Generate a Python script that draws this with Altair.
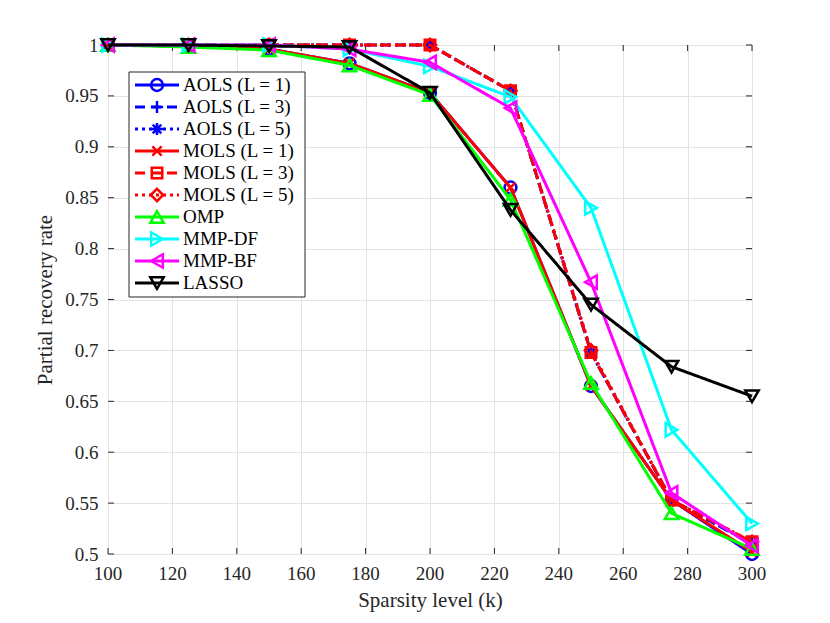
import altair as alt
import pandas as pd

# ---------------- data ----------------
k_values = [100, 125, 150, 175, 200, 225, 250, 275, 300]

series_names = ["AOLS (L = 1)", "AOLS (L = 3)", "AOLS (L = 5)",
                "MOLS (L = 1)", "MOLS (L = 3)", "MOLS (L = 5)",
                "OMP", "MMP-DF", "MMP-BF", "LASSO"]

aols_l1 = [1.000, 0.999, 0.996, 0.982, 0.953, 0.860, 0.665, 0.553, 0.500]
aols_l3 = [1.000, 1.000, 1.000, 1.000, 1.000, 0.955, 0.698, 0.553, 0.510]
aols_l5 = [1.000, 1.000, 1.000, 1.000, 1.000, 0.955, 0.698, 0.553, 0.510]
mols_l1 = [1.000, 0.999, 0.996, 0.982, 0.953, 0.860, 0.665, 0.553, 0.502]
mols_l3 = [1.000, 1.000, 1.000, 1.000, 1.000, 0.955, 0.698, 0.553, 0.512]
mols_l5 = [1.000, 1.000, 1.000, 1.000, 1.000, 0.955, 0.700, 0.553, 0.512]
omp     = [1.000, 0.998, 0.995, 0.980, 0.951, 0.848, 0.668, 0.540, 0.505]
mmp_df  = [1.000, 1.000, 1.000, 0.996, 0.979, 0.949, 0.840, 0.622, 0.530]
mmp_bf  = [1.000, 1.000, 1.000, 0.996, 0.983, 0.938, 0.767, 0.560, 0.508]
lasso   = [1.000, 1.000, 0.999, 0.998, 0.953, 0.838, 0.745, 0.684, 0.655]

series_values = [aols_l1, aols_l3, aols_l5, mols_l1, mols_l3, mols_l5,
                 omp, mmp_df, mmp_bf, lasso]

x_ticks = [100, 120, 140, 160, 180, 200, 220, 240, 260, 280, 300]
x_tick_labels = ["100", "120", "140", "160", "180", "200", "220", "240", "260", "280", "300"]
y_ticks = [0.5, 0.55, 0.6, 0.65, 0.7, 0.75, 0.8, 0.85, 0.9, 0.95, 1.0]

# ---------------- styles ----------------
PLUS = "M-1,0L1,0M0,-1L0,1"
STAR = "M-1,0L1,0M0,-1L0,1M-0.7,-0.7L0.7,0.7M-0.7,0.7L0.7,-0.7"
XMARK = "M-0.75,-0.75L0.75,0.75M-0.75,0.75L0.75,-0.75"

colors = ["#0000FF", "#0000FF", "#0000FF", "#FF0000", "#FF0000", "#FF0000",
          "#00FF00", "#00FFFF", "#FF00FF", "#000000"]
dashes = [[1, 0], [10, 6], [3, 4], [1, 0], [10, 6], [3, 4],
          [1, 0], [1, 0], [1, 0], [1, 0]]
shapes = ["circle", PLUS, STAR, XMARK, "square", "diamond",
          "triangle-up", "triangle-right", "triangle-left", "triangle-down"]
sizes = [140, 150, 150, 150, 110, 150, 180, 180, 180, 180]

FONT = "Liberation Serif"
AX = "#262626"
W, H = 644, 509
LW = 3
MW = 2.5

xscale = alt.Scale(domain=[100, 300], nice=False, zero=False)
yscale = alt.Scale(domain=[0.5, 1.0], nice=False, zero=False)

xaxis = alt.Axis(values=x_ticks, grid=True, ticks=False, labels=False,
                 domain=False, title="Sparsity level (k)", titlePadding=35,
                 titleFont=FONT, titleFontSize=21, titleFontWeight="normal",
                 titleColor=AX, gridColor="#e3e3e3")
yaxis = alt.Axis(values=y_ticks, format="~g", grid=True, ticks=False,
                 domain=False, title="Partial recovery rate", titlePadding=9,
                 labelFont=FONT, labelFontSize=19, labelColor=AX, labelPadding=10,
                 titleFont=FONT, titleFontSize=21, titleFontWeight="normal",
                 titleColor=AX, gridColor="#e3e3e3")

rows = []
for name, vals in zip(series_names, series_values):
    for k, v in zip(k_values, vals):
        rows.append({"name": name, "k": k, "rate": v})
df = pd.DataFrame(rows)

X = alt.X("k:Q", scale=xscale, axis=xaxis)
Y = alt.Y("rate:Q", scale=yscale, axis=yaxis)

layers = []

# axes + grid layer
layers.append(alt.Chart(df).mark_point(opacity=0).encode(x=X, y=Y))

# inward ticks on all four sides, and x tick labels
xt = pd.DataFrame({"k": x_ticks, "lab": x_tick_labels})
yt = pd.DataFrame({"rate": y_ticks})
layers.append(alt.Chart(xt).mark_rule(color=AX, strokeWidth=1).encode(
    x=X, y=alt.value(H), y2=alt.value(H - 6)))
layers.append(alt.Chart(xt).mark_rule(color=AX, strokeWidth=1).encode(
    x=X, y=alt.value(0), y2=alt.value(6)))
layers.append(alt.Chart(yt).mark_rule(color=AX, strokeWidth=1).encode(
    y=Y, x=alt.value(0), x2=alt.value(6)))
layers.append(alt.Chart(yt).mark_rule(color=AX, strokeWidth=1).encode(
    y=Y, x=alt.value(W), x2=alt.value(W - 6)))
layers.append(alt.Chart(xt).mark_text(
    font=FONT, fontSize=19, color=AX, align="center", baseline="top").encode(
    x=X, y=alt.value(H + 11), text="lab:N"))

# data series
for i, name in enumerate(series_names):
    d = df[df["name"] == name]
    layers.append(alt.Chart(d).mark_line(
        color=colors[i], strokeDash=dashes[i], strokeWidth=LW).encode(x=X, y=Y))
    layers.append(alt.Chart(d).mark_point(
        shape=shapes[i], color=colors[i], size=sizes[i], strokeWidth=MW,
        filled=False, opacity=1).encode(x=X, y=Y))

# legend (pixel placement inside the plot area)
one = pd.DataFrame({"a": [0]})
layers.append(alt.Chart(one).mark_rect(fill="white", stroke=AX, strokeWidth=1).encode(
    x=alt.value(21), x2=alt.value(197), y=alt.value(27), y2=alt.value(252)))
for i, name in enumerate(series_names):
    ry = 40 + 22 * i
    layers.append(alt.Chart(one).mark_rule(
        color=colors[i], strokeDash=dashes[i], strokeWidth=LW).encode(
        x=alt.value(27), x2=alt.value(71), y=alt.value(ry)))
    layers.append(alt.Chart(one).mark_point(
        shape=shapes[i], color=colors[i], size=sizes[i], strokeWidth=MW,
        filled=False, opacity=1).encode(x=alt.value(49), y=alt.value(ry)))
    layers.append(alt.Chart(one).mark_text(
        align="left", baseline="middle", font=FONT, fontSize=19, color="black",
        text=name).encode(x=alt.value(75), y=alt.value(ry)))

chart = alt.layer(*layers).properties(
    width=W, height=H,
    autosize=alt.AutoSizeParams(type="none"),
    padding={"left": 100, "top": 37, "right": 70, "bottom": 60},
).configure_view(stroke=AX, strokeWidth=1).configure(
    background="white"
).configure_axis(labelFlush=False)

chart.save("out.html", embed_options={"renderer": "svg", "actions": False})
